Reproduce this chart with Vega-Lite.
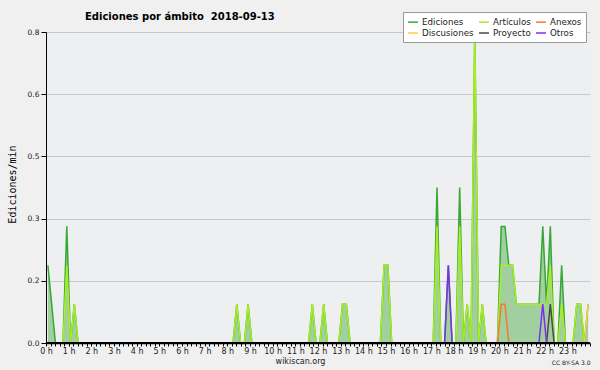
{
  "$schema": "https://vega.github.io/schema/vega-lite/v6.json",
  "width": 544,
  "height": 311,
  "autosize": {"type": "none"},
  "padding": {"left": 46, "top": 32, "right": 10, "bottom": 27},
  "background": "#f0f0f0",
  "title": {
    "text": "Ediciones por ámbito \u00a02018-09-13",
    "anchor": "start",
    "frame": "group",
    "dx": 39,
    "dy": 10,
    "offset": 0,
    "font": "DejaVu Sans",
    "fontSize": 10,
    "fontWeight": "bold",
    "color": "#000000"
  },
  "config": {
    "view": {"stroke": null, "fill": "#eeeff1"},
    "legend": {
      "orient": "none",
      "legendX": 357,
      "legendY": -20,
      "columns": 3,
      "direction": "horizontal",
      "symbolType": "stroke",
      "symbolSize": 100,
      "symbolStrokeWidth": 1.5,
      "labelFont": "DejaVu Sans",
      "labelFontSize": 8.7,
      "labelColor": "#222222",
      "fillColor": "#ffffff",
      "strokeColor": "#999999",
      "padding": 4,
      "rowPadding": 0,
      "columnPadding": 2,
      "labelOffset": 3
    }
  },
  "data": {
    "values": [
      {"t": 5, "ed": 0.2, "art": 0, "anx": 0, "dis": 0, "pro": 0, "otr": 0},
      {"t": 15, "ed": 0.1, "art": 0, "anx": 0, "dis": 0, "pro": 0, "otr": 0},
      {"t": 25, "ed": 0, "art": 0, "anx": 0, "dis": 0, "pro": 0, "otr": 0},
      {"t": 45, "ed": 0, "art": 0, "anx": 0, "dis": 0, "pro": 0, "otr": 0},
      {"t": 55, "ed": 0.3, "art": 0.2, "anx": 0, "dis": 0, "pro": 0, "otr": 0},
      {"t": 65, "ed": 0, "art": 0, "anx": 0, "dis": 0, "pro": 0, "otr": 0},
      {"t": 75, "ed": 0.1, "art": 0.1, "anx": 0, "dis": 0, "pro": 0, "otr": 0},
      {"t": 85, "ed": 0, "art": 0, "anx": 0, "dis": 0, "pro": 0, "otr": 0},
      {"t": 495, "ed": 0, "art": 0, "anx": 0, "dis": 0, "pro": 0, "otr": 0},
      {"t": 505, "ed": 0.1, "art": 0.1, "anx": 0, "dis": 0, "pro": 0, "otr": 0},
      {"t": 515, "ed": 0, "art": 0, "anx": 0, "dis": 0, "pro": 0, "otr": 0},
      {"t": 525, "ed": 0, "art": 0, "anx": 0, "dis": 0, "pro": 0, "otr": 0},
      {"t": 535, "ed": 0.1, "art": 0.1, "anx": 0, "dis": 0, "pro": 0, "otr": 0},
      {"t": 545, "ed": 0, "art": 0, "anx": 0, "dis": 0, "pro": 0, "otr": 0},
      {"t": 695, "ed": 0, "art": 0, "anx": 0, "dis": 0, "pro": 0, "otr": 0},
      {"t": 705, "ed": 0.1, "art": 0.1, "anx": 0, "dis": 0, "pro": 0, "otr": 0},
      {"t": 715, "ed": 0, "art": 0, "anx": 0, "dis": 0, "pro": 0, "otr": 0},
      {"t": 725, "ed": 0, "art": 0, "anx": 0, "dis": 0, "pro": 0, "otr": 0},
      {"t": 735, "ed": 0.1, "art": 0.1, "anx": 0, "dis": 0, "pro": 0, "otr": 0},
      {"t": 745, "ed": 0, "art": 0, "anx": 0, "dis": 0, "pro": 0, "otr": 0},
      {"t": 775, "ed": 0, "art": 0, "anx": 0, "dis": 0, "pro": 0, "otr": 0},
      {"t": 785, "ed": 0.1, "art": 0.1, "anx": 0, "dis": 0, "pro": 0, "otr": 0},
      {"t": 795, "ed": 0.1, "art": 0.1, "anx": 0, "dis": 0, "pro": 0, "otr": 0},
      {"t": 805, "ed": 0, "art": 0, "anx": 0, "dis": 0, "pro": 0, "otr": 0},
      {"t": 885, "ed": 0, "art": 0, "anx": 0, "dis": 0, "pro": 0, "otr": 0},
      {"t": 895, "ed": 0.2, "art": 0.2, "anx": 0, "dis": 0, "pro": 0, "otr": 0},
      {"t": 905, "ed": 0.2, "art": 0.2, "anx": 0, "dis": 0, "pro": 0, "otr": 0},
      {"t": 915, "ed": 0, "art": 0, "anx": 0, "dis": 0, "pro": 0, "otr": 0},
      {"t": 1025, "ed": 0, "art": 0, "anx": 0, "dis": 0, "pro": 0, "otr": 0},
      {"t": 1035, "ed": 0.4, "art": 0.3, "anx": 0, "dis": 0, "pro": 0, "otr": 0},
      {"t": 1045, "ed": 0, "art": 0, "anx": 0, "dis": 0, "pro": 0, "otr": 0},
      {"t": 1055, "ed": 0, "art": 0, "anx": 0, "dis": 0, "pro": 0, "otr": 0},
      {"t": 1065, "ed": 0.2, "art": 0, "anx": 0, "dis": 0, "pro": 0, "otr": 0.2},
      {"t": 1075, "ed": 0, "art": 0, "anx": 0, "dis": 0, "pro": 0, "otr": 0},
      {"t": 1085, "ed": 0, "art": 0, "anx": 0, "dis": 0, "pro": 0, "otr": 0},
      {"t": 1095, "ed": 0.4, "art": 0.3, "anx": 0, "dis": 0, "pro": 0, "otr": 0},
      {"t": 1105, "ed": 0, "art": 0, "anx": 0, "dis": 0, "pro": 0, "otr": 0},
      {"t": 1115, "ed": 0.1, "art": 0.1, "anx": 0, "dis": 0, "pro": 0, "otr": 0},
      {"t": 1125, "ed": 0, "art": 0, "anx": 0, "dis": 0, "pro": 0, "otr": 0},
      {"t": 1135, "ed": 0.8, "art": 0.8, "anx": 0, "dis": 0, "pro": 0, "otr": 0},
      {"t": 1145, "ed": 0, "art": 0, "anx": 0, "dis": 0, "pro": 0, "otr": 0},
      {"t": 1155, "ed": 0.1, "art": 0.1, "anx": 0, "dis": 0, "pro": 0, "otr": 0},
      {"t": 1165, "ed": 0, "art": 0, "anx": 0, "dis": 0, "pro": 0, "otr": 0},
      {"t": 1195, "ed": 0, "art": 0, "anx": 0, "dis": 0, "pro": 0, "otr": 0},
      {"t": 1205, "ed": 0.3, "art": 0.2, "anx": 0.1, "dis": 0, "pro": 0, "otr": 0},
      {"t": 1215, "ed": 0.3, "art": 0.2, "anx": 0.1, "dis": 0, "pro": 0, "otr": 0},
      {"t": 1225, "ed": 0.2, "art": 0.2, "anx": 0, "dis": 0, "pro": 0, "otr": 0},
      {"t": 1235, "ed": 0.2, "art": 0.2, "anx": 0, "dis": 0, "pro": 0, "otr": 0},
      {"t": 1245, "ed": 0.1, "art": 0.1, "anx": 0, "dis": 0, "pro": 0, "otr": 0},
      {"t": 1255, "ed": 0.1, "art": 0.1, "anx": 0, "dis": 0, "pro": 0, "otr": 0},
      {"t": 1265, "ed": 0.1, "art": 0.1, "anx": 0, "dis": 0, "pro": 0, "otr": 0},
      {"t": 1275, "ed": 0.1, "art": 0.1, "anx": 0, "dis": 0, "pro": 0, "otr": 0},
      {"t": 1285, "ed": 0.1, "art": 0.1, "anx": 0, "dis": 0, "pro": 0, "otr": 0},
      {"t": 1295, "ed": 0.1, "art": 0.1, "anx": 0, "dis": 0, "pro": 0, "otr": 0},
      {"t": 1305, "ed": 0.1, "art": 0.1, "anx": 0, "dis": 0, "pro": 0, "otr": 0},
      {"t": 1315, "ed": 0.3, "art": 0.1, "anx": 0, "dis": 0, "pro": 0, "otr": 0.1},
      {"t": 1325, "ed": 0.1, "art": 0.1, "anx": 0, "dis": 0, "pro": 0, "otr": 0},
      {"t": 1335, "ed": 0.3, "art": 0.2, "anx": 0, "dis": 0, "pro": 0.1, "otr": 0},
      {"t": 1345, "ed": 0, "art": 0, "anx": 0, "dis": 0, "pro": 0, "otr": 0},
      {"t": 1355, "ed": 0, "art": 0, "anx": 0, "dis": 0, "pro": 0, "otr": 0},
      {"t": 1365, "ed": 0.2, "art": 0.1, "anx": 0, "dis": 0, "pro": 0, "otr": 0},
      {"t": 1375, "ed": 0, "art": 0, "anx": 0, "dis": 0, "pro": 0, "otr": 0},
      {"t": 1395, "ed": 0, "art": 0, "anx": 0, "dis": 0, "pro": 0, "otr": 0},
      {"t": 1405, "ed": 0.1, "art": 0.1, "anx": 0, "dis": 0, "pro": 0, "otr": 0},
      {"t": 1415, "ed": 0.1, "art": 0.1, "anx": 0, "dis": 0, "pro": 0, "otr": 0},
      {"t": 1425, "ed": 0, "art": 0, "anx": 0, "dis": 0, "pro": 0, "otr": 0},
      {"t": 1435, "ed": 0.1, "art": 0, "anx": 0, "dis": 0.1, "pro": 0, "otr": 0}
    ]
  },
  "resolve": {"axis": {"x": "independent"}},
  "layer": [
    {
      "mark": {"type": "area", "color": "#a2cf9f", "interpolate": "linear"},
      "encoding": {
        "x": {
          "field": "t", "type": "quantitative",
          "scale": {"domain": [0, 1440], "nice": false, "zero": false},
          "axis": {
            "orient": "bottom",
            "values": [0,12,24,36,48,60,72,84,96,108,120,132,144,156,168,180,192,204,216,228,240,252,264,276,288,300,312,324,336,348,360,372,384,396,408,420,432,444,456,468,480,492,504,516,528,540,552,564,576,588,600,612,624,636,648,660,672,684,696,708,720,732,744,756,768,780,792,804,816,828,840,852,864,876,888,900,912,924,936,948,960,972,984,996,1008,1020,1032,1044,1056,1068,1080,1092,1104,1116,1128,1140,1152,1164,1176,1188,1200,1212,1224,1236,1248,1260,1272,1284,1296,1308,1320,1332,1344,1356,1368,1380,1392,1404,1416,1428,1440],
            "labelExpr": "datum.value % 60 === 0 && datum.value < 1440 ? (datum.value / 60) + ' h' : ''",
            "tickSize": 3,
            "tickColor": "#000000",
            "domainColor": "#000000",
            "domainWidth": 1.5,
            "labelFont": "DejaVu Sans",
            "labelFontSize": 8,
            "labelColor": "#222222",
            "labelPadding": 1,
            "labelOverlap": false,
            "labelBound": false,
            "labelFlush": false,
            "grid": false,
            "zindex": 1,
            "title": "wikiscan.org",
            "titleFont": "DejaVu Sans",
            "titleFontSize": 8,
            "titleFontWeight": "normal",
            "titleColor": "#222222",
            "titleX": 254,
            "titleY": 20,
            "titleAlign": "center",
            "titleBaseline": "alphabetic"
          }
        },
        "y": {
          "field": "ed", "type": "quantitative", "title": "Ediciones/min",
          "scale": {"domain": [0, 0.8], "nice": false, "zero": true},
          "axis": {
            "values": [0,0.04,0.08,0.12,0.16,0.2,0.24,0.28,0.32,0.36,0.4,0.44,0.48,0.52,0.56,0.6,0.64,0.68,0.72,0.76,0.8],
            "labelExpr": "abs(datum.value / 0.16 - round(datum.value / 0.16)) < 0.01 ? format(datum.value, '.1f') : ''",
            "tickSize": {"condition": {"test": "abs(datum.value / 0.16 - round(datum.value / 0.16)) < 0.01", "value": 5}, "value": 3},
            "gridOpacity": {"condition": {"test": "abs(datum.value / 0.16 - round(datum.value / 0.16)) < 0.01", "value": 1}, "value": 0},
            "grid": true,
            "gridColor": "#c8c8c8",
            "gridWidth": 1,
            "domainColor": "#000000",
            "tickColor": "#000000",
            "labelFont": "DejaVu Sans",
            "labelFontSize": 7.5,
            "labelColor": "#222222",
            "labelPadding": 2,
            "labelOverlap": false,
            "labelBound": false,
            "labelFlush": false,
            "titleFont": "DejaVu Sans Mono",
            "titleFontSize": 10,
            "titleFontWeight": "normal",
            "titleColor": "#000000",
            "titlePadding": 10,
            "titleY": 152
          }
        }
      }
    },
    {
      "mark": {"type": "line", "strokeWidth": 1.5, "interpolate": "linear"},
      "encoding": {
        "x": {"field": "t", "type": "quantitative", "scale": {"domain": [0, 1440], "nice": false, "zero": false}, "axis": null},
        "y": {"field": "ed", "type": "quantitative", "title": "Ediciones/min", "scale": {"domain": [0, 0.8], "nice": false, "zero": true}},
        "color": {"datum": "Ediciones", "type": "nominal", "scale": {"domain": ["Ediciones", "Artículos", "Anexos", "Discusiones", "Proyecto", "Otros"], "range": ["#36a836", "#a8ee22", "#f47a30", "#ffcf40", "#4a4a4a", "#7d2ff0"]}, "legend": {"title": null}}
      }
    },
    {
      "mark": {"type": "line", "strokeWidth": 1.5, "interpolate": "linear"},
      "encoding": {
        "x": {"field": "t", "type": "quantitative", "scale": {"domain": [0, 1440], "nice": false, "zero": false}, "axis": null},
        "y": {"field": "art", "type": "quantitative", "title": "Ediciones/min", "scale": {"domain": [0, 0.8], "nice": false, "zero": true}},
        "color": {"datum": "Artículos", "type": "nominal", "scale": {"domain": ["Ediciones", "Artículos", "Anexos", "Discusiones", "Proyecto", "Otros"], "range": ["#36a836", "#a8ee22", "#f47a30", "#ffcf40", "#4a4a4a", "#7d2ff0"]}, "legend": {"title": null}}
      }
    },
    {
      "mark": {"type": "line", "strokeWidth": 1.5, "interpolate": "linear"},
      "encoding": {
        "x": {"field": "t", "type": "quantitative", "scale": {"domain": [0, 1440], "nice": false, "zero": false}, "axis": null},
        "y": {"field": "anx", "type": "quantitative", "title": "Ediciones/min", "scale": {"domain": [0, 0.8], "nice": false, "zero": true}},
        "color": {"datum": "Anexos", "type": "nominal", "scale": {"domain": ["Ediciones", "Artículos", "Anexos", "Discusiones", "Proyecto", "Otros"], "range": ["#36a836", "#a8ee22", "#f47a30", "#ffcf40", "#4a4a4a", "#7d2ff0"]}, "legend": {"title": null}}
      }
    },
    {
      "mark": {"type": "line", "strokeWidth": 1.5, "interpolate": "linear"},
      "encoding": {
        "x": {"field": "t", "type": "quantitative", "scale": {"domain": [0, 1440], "nice": false, "zero": false}, "axis": null},
        "y": {"field": "dis", "type": "quantitative", "title": "Ediciones/min", "scale": {"domain": [0, 0.8], "nice": false, "zero": true}},
        "color": {"datum": "Discusiones", "type": "nominal", "scale": {"domain": ["Ediciones", "Artículos", "Anexos", "Discusiones", "Proyecto", "Otros"], "range": ["#36a836", "#a8ee22", "#f47a30", "#ffcf40", "#4a4a4a", "#7d2ff0"]}, "legend": {"title": null}}
      }
    },
    {
      "mark": {"type": "line", "strokeWidth": 1.5, "interpolate": "linear"},
      "encoding": {
        "x": {"field": "t", "type": "quantitative", "scale": {"domain": [0, 1440], "nice": false, "zero": false}, "axis": null},
        "y": {"field": "pro", "type": "quantitative", "title": "Ediciones/min", "scale": {"domain": [0, 0.8], "nice": false, "zero": true}},
        "color": {"datum": "Proyecto", "type": "nominal", "scale": {"domain": ["Ediciones", "Artículos", "Anexos", "Discusiones", "Proyecto", "Otros"], "range": ["#36a836", "#a8ee22", "#f47a30", "#ffcf40", "#4a4a4a", "#7d2ff0"]}, "legend": {"title": null}}
      }
    },
    {
      "mark": {"type": "line", "strokeWidth": 1.5, "interpolate": "linear"},
      "encoding": {
        "x": {
          "field": "t", "type": "quantitative",
          "scale": {"domain": [0, 1440], "nice": false, "zero": false},
          "axis": {
            "orient": "bottom",
            "title": "CC BY-SA 3.0",
            "labels": false,
            "ticks": false,
            "domain": false,
            "grid": false,
            "titleFont": "DejaVu Sans",
            "titleFontSize": 6,
            "titleFontWeight": "normal",
            "titleColor": "#222222",
            "titleX": 544,
            "titleY": 21,
            "titleAlign": "right",
            "titleBaseline": "alphabetic"
          }
        },
        "y": {"field": "otr", "type": "quantitative", "title": "Ediciones/min", "scale": {"domain": [0, 0.8], "nice": false, "zero": true}},
        "color": {"datum": "Otros", "type": "nominal", "scale": {"domain": ["Ediciones", "Artículos", "Anexos", "Discusiones", "Proyecto", "Otros"], "range": ["#36a836", "#a8ee22", "#f47a30", "#ffcf40", "#4a4a4a", "#7d2ff0"]}, "legend": {"title": null}}
      }
    },
    {
      "mark": {"type": "rule", "color": "#000000", "strokeWidth": 1.5},
      "encoding": {
        "y": {"datum": 0, "type": "quantitative", "scale": {"domain": [0, 0.8], "nice": false, "zero": true}}
      }
    }
  ]
}
